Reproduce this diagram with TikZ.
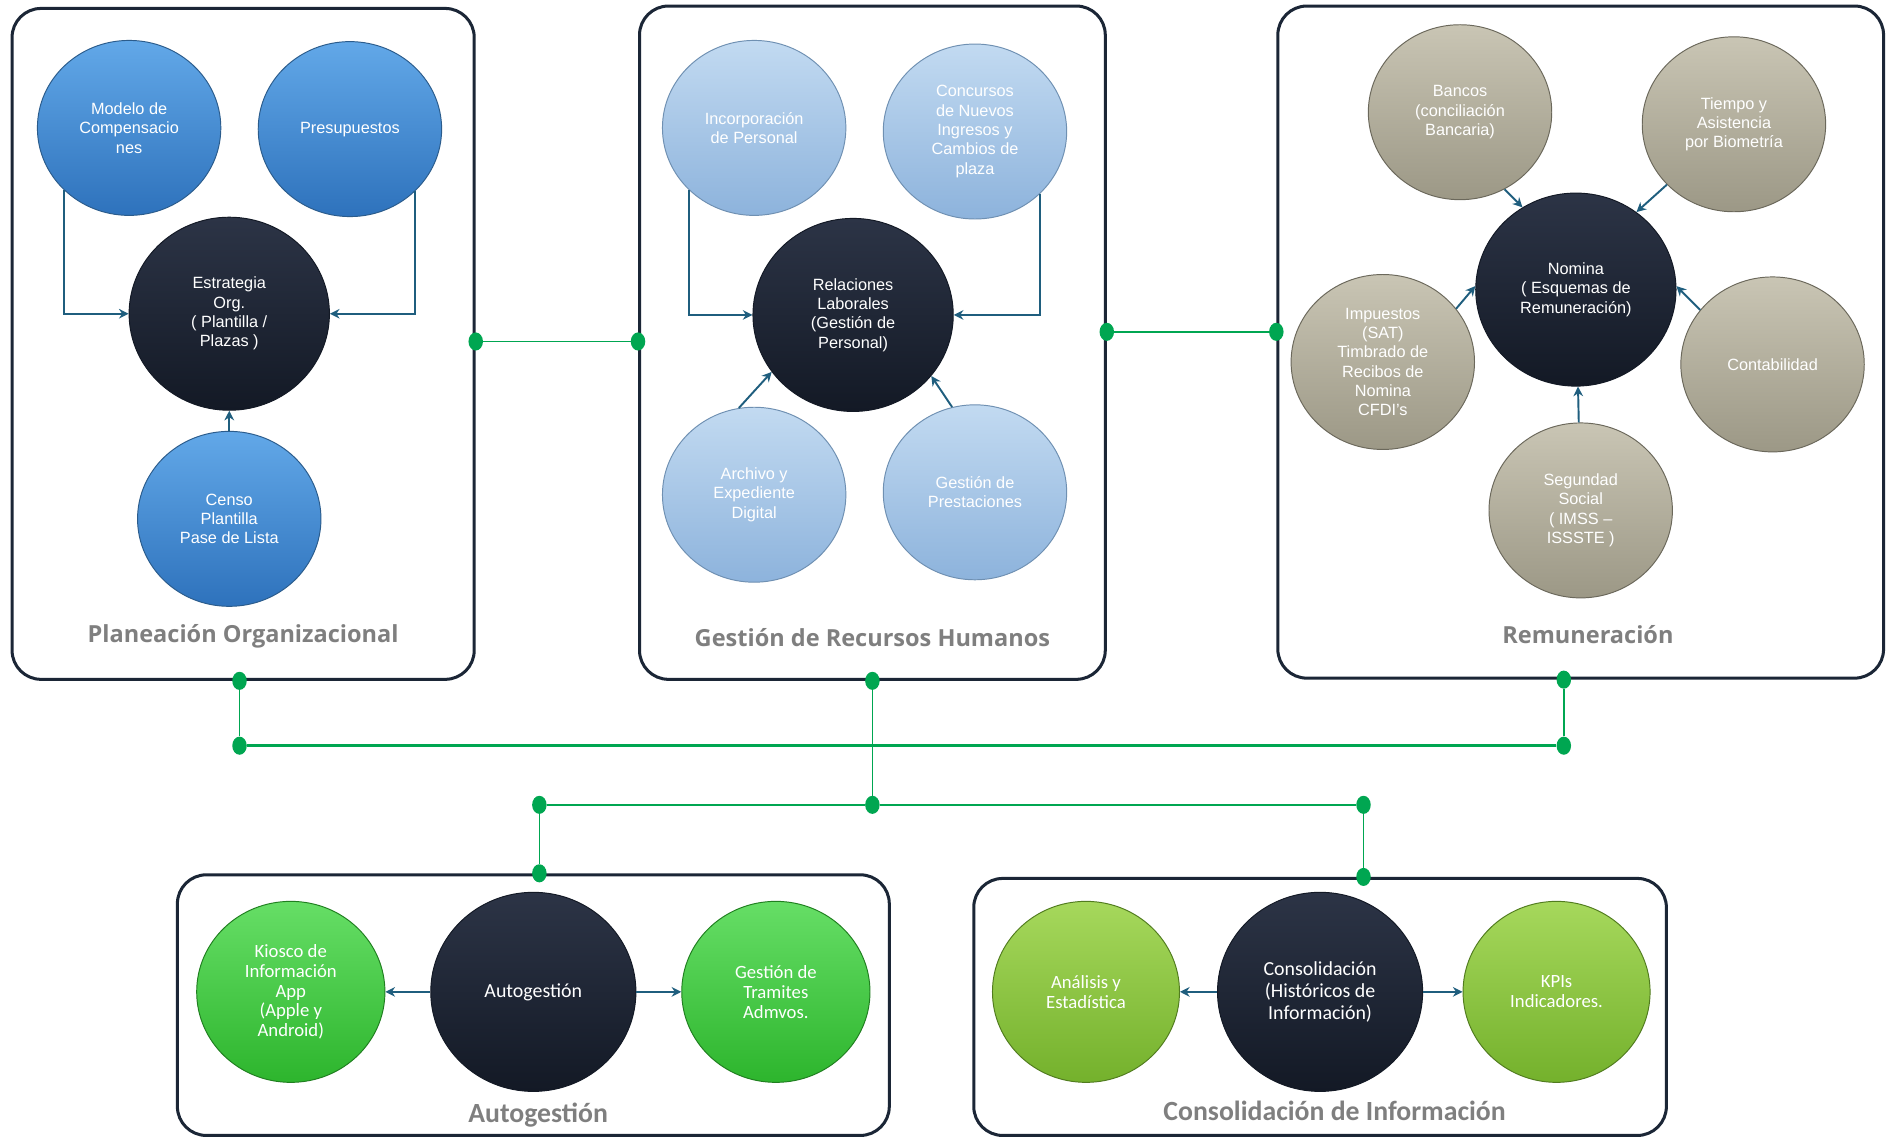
\documentclass[tikz,border=0pt]{standalone}
\usepackage{fontspec}
\setmainfont{Liberation Sans}
\newfontfamily\titlefont{Open Sans}
\newfontfamily\narrowfont{Carlito}
\usetikzlibrary{shapes.geometric,arrows.meta,positioning}

\definecolor{panelline}{HTML}{1B2636}
\definecolor{titlegray}{HTML}{7F7F7F}
\definecolor{arrowcol}{HTML}{1F5E7E}
\definecolor{dotgreen}{HTML}{00A651}
\definecolor{bluetop}{HTML}{62A8E8}
\definecolor{bluebot}{HTML}{2E72BC}
\definecolor{blueline}{HTML}{2B5C8C}
\definecolor{skytop}{HTML}{C2DAF1}
\definecolor{skybot}{HTML}{8DB3DC}
\definecolor{skyline}{HTML}{6F90B2}
\definecolor{sandtop}{HTML}{C9C5B4}
\definecolor{sandbot}{HTML}{9C9886}
\definecolor{sandline}{HTML}{6B685B}
\definecolor{inktop}{HTML}{2C3446}
\definecolor{inkbot}{HTML}{131925}
\definecolor{limetop}{HTML}{66DE66}
\definecolor{limebot}{HTML}{2DB52D}
\definecolor{olivetop}{HTML}{A6D85C}
\definecolor{olivebot}{HTML}{74B12C}

\begin{document}
\begin{tikzpicture}[x=1pt,y=-1pt,
    >={Stealth[length=8pt,width=8pt]},
    panel/.style={rectangle, draw=panelline, line width=2.5pt, rounded corners=24pt, fill=white},
    ptitle/.style={text=titlegray, font=\titlefont\bfseries\fontsize{19.5}{24}\selectfont},
    btitle/.style={text=titlegray, font=\narrowfont\bfseries\fontsize{23}{27}\selectfont},
    ball/.style={ellipse, line width=0.8pt, align=center, text=white, inner sep=0pt,
        minimum width=152pt, minimum height=145pt, font=\fontsize{13.5}{16}\selectfont},
    blueball/.style={ball, draw=blueline, top color=bluetop, bottom color=bluebot},
    skyball/.style={ball, draw=skyline, top color=skytop, bottom color=skybot},
    sandball/.style={ball, draw=sandline, top color=sandtop, bottom color=sandbot},
    inkball/.style={ball, draw=inkbot, top color=inktop, bottom color=inkbot,
        minimum width=166pt, minimum height=160pt},
    limeball/.style={ball, draw=limebot!70!black, top color=limetop, bottom color=limebot,
        minimum width=156pt, minimum height=150pt, font=\narrowfont\fontsize{15.5}{16.5}\selectfont},
    oliveball/.style={ball, draw=olivebot!70!black, top color=olivetop, bottom color=olivebot,
        minimum width=155pt, minimum height=150pt, font=\narrowfont\fontsize{15.5}{16.5}\selectfont},
    inkwide/.style={inkball, minimum width=170pt, minimum height=165pt,
        font=\narrowfont\fontsize{16.5}{18}\selectfont},
    flow/.style={->, draw=arrowcol, line width=1.6pt},
    dot/.style={ellipse, fill=dotgreen, inner sep=0pt, minimum width=12pt, minimum height=15pt},
    link/.style={draw=dotgreen, line width=1.3pt}]

\useasboundingbox (0,0) rectangle (1568,944);

\node (plan) [panel, minimum width=383pt, minimum height=556pt] at (201.5,285) {};
\node (gest) [panel, minimum width=386pt, minimum height=558pt] at (723,284) {};
\node (remu) [panel, minimum width=502pt, minimum height=557pt] at (1310,283.5) {};
\node (autop) [panel, minimum width=590pt, minimum height=216pt] at (442,833) {};
\node (conp) [panel, minimum width=574pt, minimum height=213pt] at (1094,834.5) {};

\node (plantit) [ptitle] at ([yshift=37pt]plan.south) {Planeación Organizacional};
\node (gesttit) [ptitle] at ([yshift=36pt]gest.south) {Gestión de Recursos Humanos};
\node (remutit) [ptitle] at ([yshift=37pt,xshift=6pt]remu.south) {Remuneración};
\node (autotit) [btitle] at (446,924) {Autogestión};
\node (contit) [btitle] at (1106,921) {Consolidación de Información};

\node (modelo) [blueball] at (107,106) {Modelo de\\Compensacio\\nes};
\node (presu) [blueball] at (290,107) {Presupuestos};
\node (estr) [inkball] at (190,260) {Estrategia\\Org.\\( Plantilla /\\Plazas )};
\node (censo) [blueball] at (190,430) {Censo\\Plantilla\\Pase de Lista};

\node (incorp) [skyball] at (625,106) {Incorporación\\de Personal};
\node (concur) [skyball] at (808,109) {Concursos\\de Nuevos\\Ingresos y\\Cambios de\\plaza};
\node (rel) [inkball] at (707,261) {Relaciones\\Laborales\\(Gestión de\\Personal)};
\node (archivo) [skyball] at (625,410) {Archivo y\\Expediente\\Digital};
\node (prest) [skyball] at (808,408) {Gestión de\\Prestaciones};

\node (bancos) [sandball] at (1210,93) {Bancos\\(conciliación\\Bancaria)};
\node (tiempo) [sandball] at (1437,103) {Tiempo y\\Asistencia\\por Biometría};
\node (nomina) [inkball] at (1306,240) {Nomina\\( Esquemas de\\Remuneración)};
\node (impuestos) [sandball] at (1146,300) {Impuestos\\(SAT)\\Timbrado de\\Recibos de\\Nomina\\CFDI's};
\node (conta) [sandball] at (1469,302) {Contabilidad};
\node (segur) [sandball] at (1310,423) {Segundad\\Social\\( IMSS –\\ISSSTE )};

\node (kiosco) [limeball] at (241,822) {Kiosco de\\Información\\App\\(Apple y\\Android)};
\node (autog) [inkwide] at (442,822) {Autogestión};
\node (tramites) [limeball] at (643,822) {Gestión de\\Tramites\\Admvos.};

\node (analisis) [oliveball] at (900,822) {Análisis y\\Estadística};
\node (consol) [inkwide] at (1094,822) {Consolidación\\(Históricos de\\Información)};
\node (kpis) [oliveball] at (1290,822) {KPIs\\Indicadores.};

\draw[flow] (modelo.south west) |- (estr.west);
\draw[flow] (presu.south east) |- (estr.east);
\draw[flow] (censo) -- (estr);

\draw[flow] (incorp.south west) |- (rel.west);
\draw[flow] (concur.south east) |- (rel.east);
\draw[flow] (archivo.100) -- (rel.215);
\draw[flow] (prest.105) -- (rel.322);

\draw[flow] (bancos.300) -- (nomina.123);
\draw[flow] (tiempo.222) -- (nomina.52);
\draw[flow] (impuestos.36) -- (nomina.178);
\draw[flow] (conta.143) -- (nomina.2);
\draw[flow] (segur) -- (nomina);

\draw[flow] (autog) -- (kiosco);
\draw[flow] (autog) -- (tramites);
\draw[flow] (consol) -- (analisis);
\draw[flow] (consol) -- (kpis);

\node (d1) [dot] at ([yshift=2pt]plan.east) {};
\node (d2) [dot] at ([yshift=1pt]gest.west) {};
\node (d3) [dot] at ([yshift=9pt]gest.east) {};
\node (d4) [dot] at ([yshift=8.5pt]remu.west) {};
\node (d5) [dot] at ([xshift=-3pt]plan.south) {};
\node (d6) [dot] at (gest.south) {};
\node (d7) [dot] at ([xshift=-14pt]remu.south) {};
\node (d8) [dot] at (d5 |- 0,618) {};
\node (d9) [dot] at (d7 |- 0,618) {};
\node (d10) [dot] at (d6 |- 0,667) {};
\node (d11) [dot] at (447,667) {};
\node (d12) [dot] at (1130,667) {};
\node (d13) [dot] at (d11 |- autop.north) {};
\node (d14) [dot] at (d12 |- conp.north) {};

\draw[link] (d1) -- (d2);
\draw[link] (d3) -- (d4);
\draw[link] (d5) -- (d8);
\draw[link, line width=2pt] (d8) -- (d9);
\draw[link] (d9) -- (d7);
\draw[link] (d6) -- (d10);
\draw[link, line width=2pt] (d11) -- (d10);
\draw[link, line width=2pt] (d10) -- (d12);
\draw[link] (d11) -- (d13);
\draw[link] (d12) -- (d14);

\end{tikzpicture}
\end{document}
